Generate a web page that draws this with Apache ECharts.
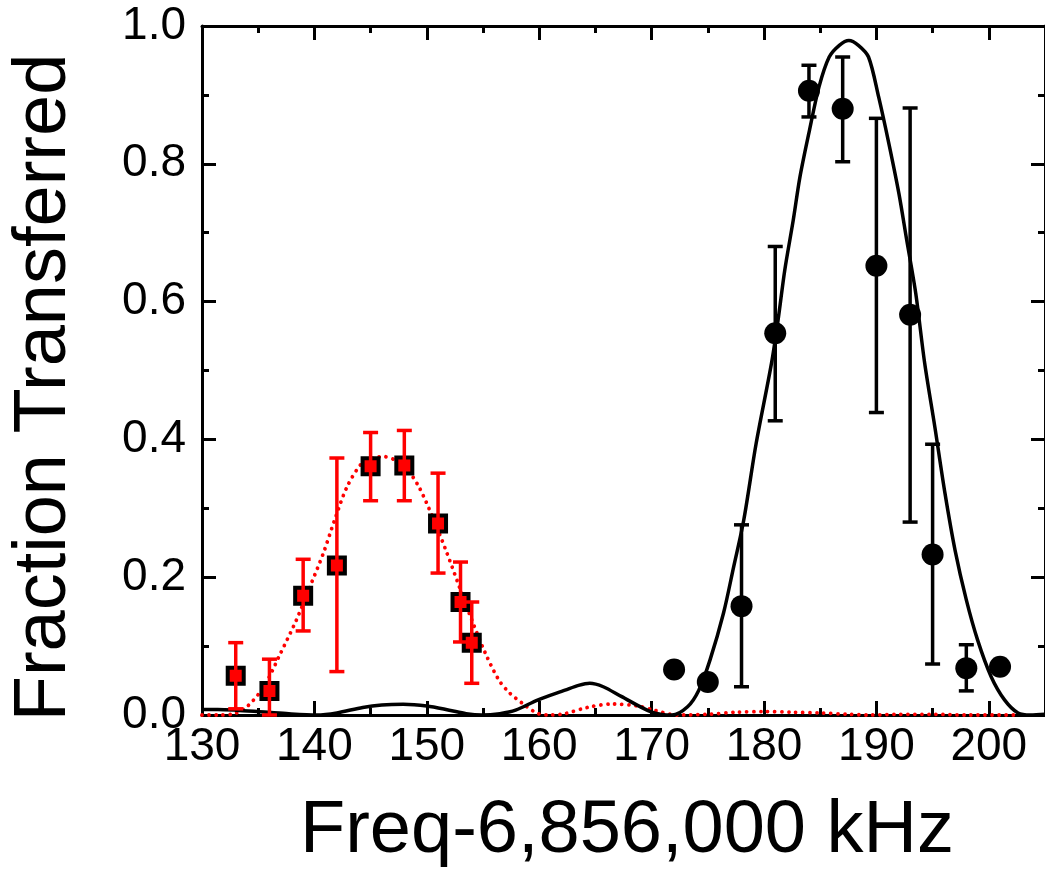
<!DOCTYPE html>
<html><head><meta charset="utf-8">
<script src="https://cdn.jsdelivr.net/npm/echarts@6/dist/echarts.min.js"></script>
<style>html,body{margin:0;padding:0;background:#fff}#c{width:1045px;height:874px}</style>
</head><body><div id="c"></div>
<script>
// Red squares (data set 1)
const redX  = [133, 136, 139, 142, 145, 148, 151, 153, 154];
const redY  = [0.057, 0.035, 0.173, 0.217, 0.361, 0.362, 0.278, 0.164, 0.105];
const redHi = [0.105, 0.081, 0.226, 0.373, 0.410, 0.413, 0.351, 0.222, 0.164];
const redLo = [0.009, 0.000, 0.122, 0.063, 0.311, 0.311, 0.206, 0.106, 0.046];

// Black circles (data set 2)
const blkX  = [172, 175, 178, 181, 184, 187, 190, 193, 195, 198, 201];
const blkY  = [0.066, 0.048, 0.158, 0.554, 0.906, 0.880, 0.652, 0.581, 0.233, 0.068, 0.070];
const blkHi = [0.066, 0.048, 0.276, 0.680, 0.943, 0.955, 0.866, 0.881, 0.393, 0.102, 0.070];
const blkLo = [0.066, 0.048, 0.041, 0.427, 0.868, 0.803, 0.439, 0.280, 0.074, 0.035, 0.070];

// Black solid fit curve
const blkFitX = [130, 131.4, 133, 134.9, 137.5, 140.2, 142, 144.3, 146, 147.9, 150, 152, 153.5, 154.9, 156.5, 157.9, 159.9, 162.3, 163.5, 164.5, 165.7, 167.3, 169.9, 171.8, 173.2, 174.2, 175.2, 176.4, 177.3, 178.2, 179.3, 180.66, 181.25, 181.85, 182.6, 183.2, 184.05, 184.9, 185.8, 186.7, 187.55, 188.4, 189.3, 190.2, 191.1, 192.0, 192.7, 193.5, 194.3, 195.2, 196.1, 197.0, 198.0, 199.0, 200.2, 201.4, 202.6, 203.7, 205];
const blkFitY = [0.008, 0.008, 0.007, 0.005, 0.002, 0.000, 0.003, 0.011, 0.0145, 0.0155, 0.013, 0.007, 0.002, 0.000, 0.002, 0.007, 0.022, 0.036, 0.043, 0.046, 0.041, 0.027, 0.005, 0.000, 0.012, 0.036, 0.080, 0.148, 0.215, 0.283, 0.394, 0.510, 0.573, 0.646, 0.718, 0.781, 0.849, 0.912, 0.955, 0.972, 0.979, 0.972, 0.955, 0.897, 0.830, 0.757, 0.689, 0.612, 0.510, 0.418, 0.322, 0.239, 0.167, 0.109, 0.056, 0.022, 0.003, 0.000, 0.001];

// Red dotted fit curve
const redFitX = [130, 131.5, 132.9, 134.0, 135.5, 137.0, 138.4, 139.6, 140.8, 141.8, 142.9, 144.2, 145.2, 146.2, 147.2, 148.1, 149.3, 150.5, 151.7, 152.9, 154.0, 155.2, 156.4, 157.3, 158.5, 159.9, 161, 162.3, 164.3, 166.5, 168.8, 170.2, 172.3, 175, 177.5, 180, 182.5, 185, 187.5, 189.3, 192, 195.2, 198, 202.5];
const redFitY = [0.000, 0.000, 0.002, 0.012, 0.041, 0.090, 0.138, 0.186, 0.235, 0.283, 0.331, 0.365, 0.373, 0.375, 0.370, 0.360, 0.331, 0.288, 0.239, 0.186, 0.138, 0.090, 0.051, 0.033, 0.017, 0.002, 0.000, 0.002, 0.011, 0.016, 0.013, 0.007, 0.000, 0.001, 0.004, 0.005, 0.004, 0.003, 0.001, 0.000, 0.001, 0.001, 0.000, 0.000];

// Axis ticks
const xMin = 130, xMax = 205, xMajor = 10, xMinor = 5;
const yMin = 0, yMax = 1, yMajor = 0.2, yMinor = 0.1;
const xTitle = 'Freq-6,856,000 kHz';
const yTitle = 'Fraction Transferred';

const FONT = '"Liberation Sans", Arial, Helvetica, sans-serif';
const zip = (a, b) => a.map((v, i) => [v, b[i]]);

function xAx(pos, interval, len, main, withLine) {
  return {
    type: 'value', gridIndex: 0, position: pos, min: xMin, max: xMax, interval: interval,
    axisLine: {show: withLine, onZero: false, lineStyle: {color: '#000', width: 3}},
    axisTick: {show: true, inside: true, length: len, lineStyle: {color: '#000', width: 3}},
    axisLabel: {show: main, showMaxLabel: false, color: '#000', fontSize: 46, fontFamily: FONT, margin: 9},
    splitLine: {show: false},
    name: main ? xTitle : '', nameLocation: 'middle', nameGap: 80,
    nameTextStyle: {color: '#000', fontSize: 74, fontFamily: FONT, padding: [0, 0, 0, 7]}
  };
}
function yAx(pos, interval, len, main, withLine) {
  return {
    type: 'value', gridIndex: 0, position: pos, min: yMin, max: yMax, interval: interval,
    axisLine: {show: withLine, onZero: false, lineStyle: {color: '#000', width: 3}},
    axisTick: {show: true, inside: true, length: len, lineStyle: {color: '#000', width: 3}},
    axisLabel: {show: main, color: '#000', fontSize: 46, fontFamily: FONT, margin: 16,
      formatter: v => v.toFixed(1)},
    splitLine: {show: false},
    name: main ? yTitle : '', nameLocation: 'middle', nameGap: 120,
    nameTextStyle: {color: '#000', fontSize: 74, fontFamily: FONT, padding: [0, 34, 0, 0]}
  };
}

function errRender(color) {
  return function (params, api) {
    const x = api.value(0), lo = api.value(1), hi = api.value(2);
    const pLo = api.coord([x, lo]), pHi = api.coord([x, hi]);
    const w = 7.5;
    const st = {stroke: color, lineWidth: 3.5};
    return {
      type: 'group', children: [
        {type: 'line', shape: {x1: pLo[0], y1: pLo[1], x2: pHi[0], y2: pHi[1]}, style: st},
        {type: 'line', shape: {x1: pHi[0] - w, y1: pHi[1], x2: pHi[0] + w, y2: pHi[1]}, style: st},
        {type: 'line', shape: {x1: pLo[0] - w, y1: pLo[1], x2: pLo[0] + w, y2: pLo[1]}, style: st}
      ]
    };
  };
}

const chart = echarts.init(document.getElementById('c'), null, {renderer: 'canvas'});
chart.setOption({
  animation: false,
  backgroundColor: '#fff',
  grid: {left: 201, top: 26, width: 849, height: 689, containLabel: false},
  xAxis: [
    xAx('bottom', xMajor, 14, true, true),
    xAx('bottom', xMinor, 7, false, false),
    xAx('top', xMajor, 14, false, true),
    xAx('top', xMinor, 7, false, false)
  ],
  yAxis: [
    yAx('left', yMajor, 14, true, true),
    yAx('left', yMinor, 7, false, false),
    yAx('right', yMajor, 14, false, true),
    yAx('right', yMinor, 7, false, false)
  ],
  series: [
    {type: 'line', xAxisIndex: 0, yAxisIndex: 0, data: zip(redFitX, redFitY), smooth: 0.3,
      showSymbol: false, symbol: 'none', z: 2,
      lineStyle: {color: '#ff0000', width: 3.8, type: [0.01, 7], cap: 'round'}},
    {type: 'line', xAxisIndex: 0, yAxisIndex: 0, data: zip(blkFitX, blkFitY), smooth: 0.3,
      showSymbol: false, symbol: 'none', z: 3,
      lineStyle: {color: '#000', width: 3.5}},
    {type: 'scatter', xAxisIndex: 0, yAxisIndex: 0, data: zip(redX, redY), symbol: 'rect', symbolSize: 16, z: 4,
      itemStyle: {color: '#ff0000', borderColor: '#000', borderWidth: 4, opacity: 1}},
    {type: 'custom', xAxisIndex: 0, yAxisIndex: 0, z: 5,
      data: redX.map((x, i) => [x, redLo[i], redHi[i]]),
      encode: {x: 0, y: [1, 2]}, renderItem: errRender('#ff0000')},
    {type: 'custom', xAxisIndex: 0, yAxisIndex: 0, z: 5,
      data: blkX.map((x, i) => [x, blkLo[i], blkHi[i]]),
      encode: {x: 0, y: [1, 2]}, renderItem: errRender('#000')},
    {type: 'scatter', xAxisIndex: 0, yAxisIndex: 0, data: zip(blkX, blkY), symbol: 'circle', symbolSize: 22, z: 6,
      itemStyle: {color: '#000', opacity: 1}}
  ]
});
</script>
</body></html>
